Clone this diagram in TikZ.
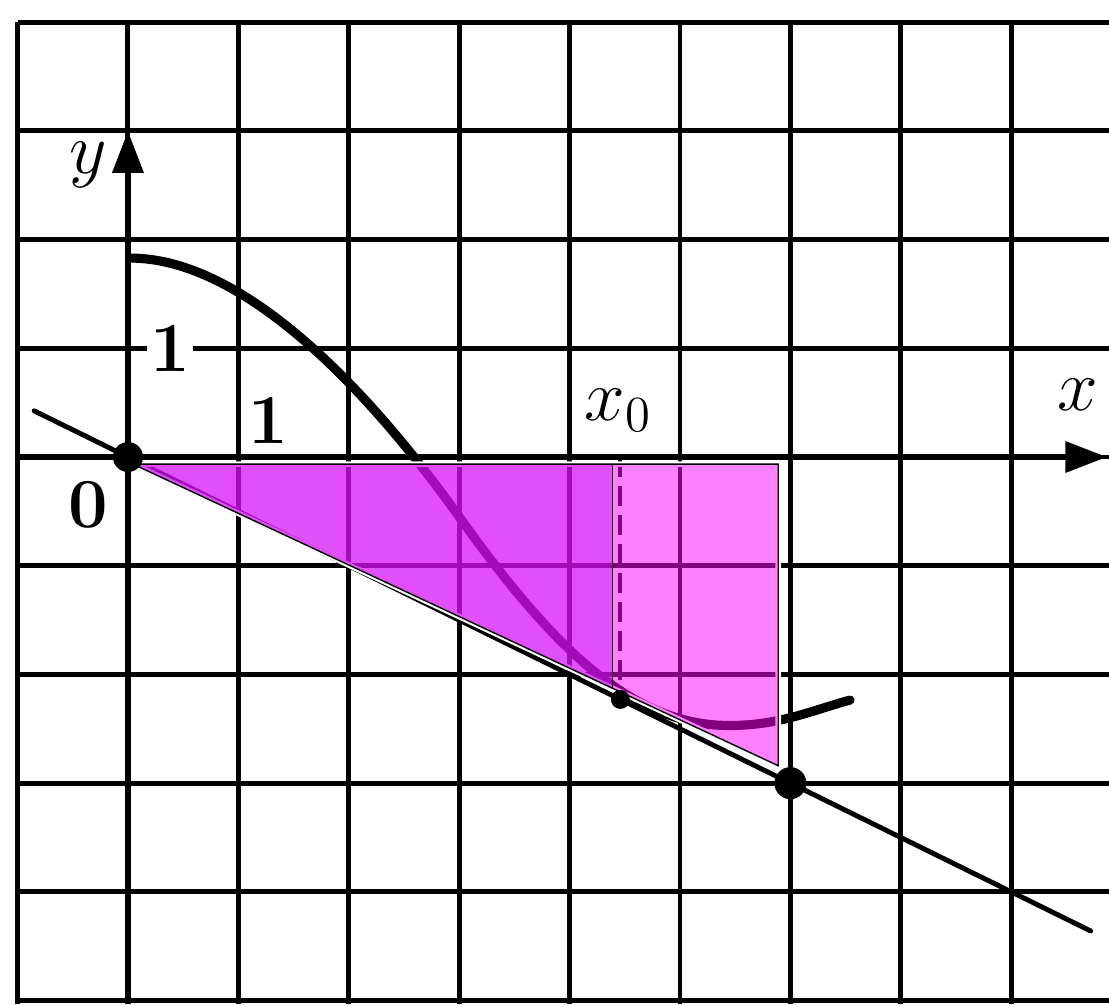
\documentclass[tikz,border=0pt]{standalone}
\usepackage{tikz}
\usetikzlibrary{arrows.meta, positioning, calc}

\definecolor{shdark}{RGB}{215,20,245}
\definecolor{shlight}{RGB}{255,0,255}

\begin{document}
\begin{tikzpicture}[
  x=1.104cm, y=1.087cm,
  gridln/.style={line width=1.4pt},
  axis/.style={line width=1.9pt, -{Triangle[length=4.2mm, width=3mm]}},
  graph/.style={line width=2.6pt, line cap=round},
  tangln/.style={line width=1.4pt, line cap=round},
  dropln/.style={line width=1.1pt, dash pattern=on 2mm off 0.9mm},
  dot/.style={circle, fill=black, inner sep=0pt, minimum size=#1},
  lbl/.style={font=\fontsize{20}{24}\selectfont, inner sep=1pt},
  darkpart/.style={fill=shdark, fill opacity=0.75},
  lightpart/.style={fill=shlight, fill opacity=0.5},
  rim/.style={draw=black, line width=0.4pt},
  halo/.style={draw=white, line width=1.6pt}
]
  \useasboundingbox (-1.159,-5.032) rectangle (8.886,4.204);

  \foreach \i in {-1,...,8}
    \draw[gridln] (\i,-5.032) -- (\i,4);
  \foreach \j in {-5,...,4}
    \draw[gridln] (-1,\j) -- (8.886,\j);

  \coordinate (O) at (0,0);
  \coordinate (Xtail) at (-1,0);
  \coordinate (Xtip) at (8.87,0);
  \coordinate (Ytail) at (0,-5.032);
  \coordinate (Ytip) at (0,3.0);
  \coordinate (T) at (4.46,-2.23);
  \coordinate (B) at (6,-3);
  \coordinate (L1) at (-0.85,0.425);
  \coordinate (L2) at (8.72,-4.36);

  \draw[axis] (Xtail) -- (Xtip);
  \draw[axis] (Ytail) -- (Ytip);

  \coordinate (C0) at (0.02,1.83);
  \coordinate (C1) at (3.0,-0.55);
  \coordinate (C2) at (5.45,-2.47);
  \coordinate (C3) at (6.54,-2.236);
  \draw[graph] (C0) .. controls (1.0,1.83) and (2.1,0.73) .. (C1)
    .. controls (3.9,-1.83) and (4.6,-2.47) .. (C2)
    .. controls (5.9,-2.47) and (6.2,-2.33) .. (C3);
  \draw[tangln] (L1) -- (L2);
  \draw[dropln] (T |- O) -- (T);

  \coordinate (P1) at (0.045,-0.065);
  \coordinate (P2) at (4.39,-0.065);
  \coordinate (P3) at (5.89,-0.065);
  \coordinate (P4) at (5.89,-2.84);
  \coordinate (P5) at (4.39,-2.128);

  \draw[halo] (P1) -- (P3) -- (P4) -- cycle;
  \fill[darkpart] (P1) -- (P2) -- (P5) -- cycle;
  \fill[lightpart] (P2) -- (P3) -- (P4) -- (P5) -- cycle;
  \draw[rim] (P1) -- (P3) -- (P4) -- cycle;
  \draw[rim] (P2) -- (P5);

  \node[dot=3mm] (o) at (O) {};
  \node[dot=3.2mm] (b) at (B) {};
  \node[dot=1.9mm] (t) at (T) {};

  \node[lbl] (ylab) at (-0.36,2.69) {$y$};
  \node[lbl] (xlab) at (8.6,0.57) {$x$};
  \node[lbl, fill=white] (one1) at (0.38,1.0) {\textbf{1}};
  \node[lbl] (one2) at (1.27,0.34) {\textbf{1}};
  \node[lbl] (zero) at (-0.36,-0.44) {\textbf{0}};
  \node[lbl] (x0lab) at (4.44,0.43) {$x_0$};
\end{tikzpicture}
\end{document}
